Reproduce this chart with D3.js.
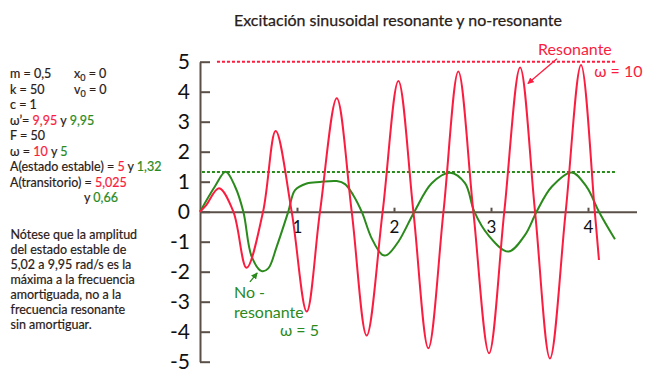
<!DOCTYPE html>
<html>
<head>
<meta charset="utf-8">
<script src="https://cdn.jsdelivr.net/npm/d3@7"></script>
<style>
  body { margin: 0; background: #fff; }
  text { font-family: Lato, "Noto Sans", sans-serif; }
</style>
</head>
<body>
<svg id="chart" width="650" height="376"></svg>
<script>
// values (t in s, x in the plot's units)
const resonantT = [0, 0.06, 0.196, 0.344, 0.48, 0.65, 0.78, 0.945, 1.10, 1.237, 1.41, 1.564, 1.718, 1.883,
  2.045, 2.2, 2.354, 2.51, 2.663, 2.818, 2.98, 3.137, 3.30, 3.454, 3.608, 3.77, 3.928, 4.07, 4.113];
const resonantX = [0, 0.2, 0.78, 0, -1.87, 0, 2.69, 0, -3.33, 0, 3.78, 0, -4.13, 0,
  4.36, 0, -4.55, 0, 4.67, 0, -4.72, 0, 4.81, 0, -4.89, 0, 4.89, 0, -1.61];

const nonResT = [0, 0.155, 0.265, 0.36, 0.447, 0.533, 0.636, 0.704, 0.79, 0.91, 0.98, 1.1, 1.237, 1.41,
  1.495, 1.58, 1.667, 1.77, 1.88, 1.93, 2.045, 2.21, 2.389, 2.577, 2.732, 2.828, 2.972, 3.178, 3.35,
  3.47, 3.626, 3.832, 3.986, 4.113, 4.278];
const nonResX = [0, 0.85, 1.33, 0.85, 0, -1.5, -1.98, -1.89, -1.17, 0, 0.72, 0.94, 0.99, 1.02,
  0.92, 0.55, 0, -0.89, -1.44, -1.44, -1.0, 0, 0.95, 1.30, 0.95, 0, -0.78, -1.33, -0.78,
  0, 0.83, 1.31, 0.83, 0, -0.92];

const steadyRes = 5;      // A estado estable, resonante
const steadyNonRes = 1.32; // A estado estable, no-resonante
const dashResSpan = [0.175, 4.28];
const dashNonResSpan = [0.02, 4.28];

const xTicks = [1, 2, 3, 4];
const yTicks = [-5, -4, -3, -2, -1, 0, 1, 2, 3, 4, 5];

const paramLines = [
  [["m = 0,5", "ink"]],
  [["k  = 50", "ink"]],
  [["c = 1", "ink"]],
  [["ω’= ", "ink"], ["9,95", "red"], [" y ", "ink"], ["9,95", "green"]],
  [["F = 50", "ink"]],
  [["ω = ", "ink"], ["10", "red"], [" y ", "ink"], ["5", "green"]],
  [["A(estado estable) = ", "ink"], ["5", "red"], [" y ", "ink"], ["1,32", "green"]],
  [["A(transitorio) = ", "ink"], ["5,025", "red"]]
];
const noteLines = [
  "Nótese que la amplitud",
  "del estado estable de",
  "5,02 a 9,95 rad/s es la",
  "máxima a la frecuencia",
  "amortiguada, no a la",
  "frecuencia resonante",
  "sin amortiguar."
];

const RED = "#fb1d40";
const GREEN = "#2b8a1c";
const AXIS = "#5b5048";
const INK = "#2a2018";
const col = c => c === "red" ? RED : c === "green" ? GREEN : INK;

const svg = d3.select("#chart");
svg.append("rect").attr("width", 650).attr("height", 376).attr("fill", "#fff");

const x = d3.scaleLinear().domain([0, 4]).range([200, 588]);
const xAxisScale = d3.scaleLinear().domain([0, 4.5]).range([x(0), x(4.5)]);
const y = d3.scaleLinear().domain([-5, 5]).range([361.7, 61.7]);

// markers for the arrows
const defs = svg.append("defs");
[["arrRed", RED], ["arrGreen", GREEN]].forEach(([id, c]) => {
  defs.append("marker")
    .attr("id", id)
    .attr("viewBox", "0 0 10 10")
    .attr("refX", 9).attr("refY", 5)
    .attr("markerWidth", 5).attr("markerHeight", 5)
    .attr("orient", "auto")
    .append("path")
    .attr("d", "M0,0L10,5L0,10z")
    .attr("fill", c);
});

// title
svg.append("text")
  .attr("x", 398).attr("y", 26)
  .attr("text-anchor", "middle")
  .style("font-size", "16px")
  .attr("fill", INK)
  .attr("stroke", INK).attr("stroke-width", 0.25)
  .text("Excitación sinusoidal resonante y no-resonante");

// parameter block
const params = svg.append("g").style("font-size", "12.5px").style("white-space", "pre").attr("fill", INK);
paramLines.forEach((parts, i) => {
  const t = params.append("text").attr("x", 10).attr("y", 78 + i * 15.5);
  parts.forEach(([s, c]) => t.append("tspan").attr("fill", col(c)).attr("stroke", col(c)).attr("stroke-width", 0.2).text(s));
});
// x0 / v0 with subscripts
[["x", 78], ["v", 93.5]].forEach(([v, yy]) => {
  const t = params.append("text").attr("x", 74).attr("y", yy).attr("stroke", INK).attr("stroke-width", 0.2);
  t.append("tspan").text(v);
  t.append("tspan").attr("dy", 3).style("font-size", "9px").text("0");
  t.append("tspan").attr("dy", -3).text(" = 0");
});
params.append("text").attr("x", 84).attr("y", 78 + 8 * 15.5)
  .call(t => {
    t.append("tspan").attr("stroke", INK).attr("stroke-width", 0.2).text("y ");
    t.append("tspan").attr("fill", GREEN).attr("stroke", GREEN).attr("stroke-width", 0.2).text("0,66");
  });

// note
const note = svg.append("g").style("font-size", "12.5px").attr("fill", INK)
  .attr("stroke", INK).attr("stroke-width", 0.2);
noteLines.forEach((s, i) => {
  note.append("text").attr("x", 10.5).attr("y", 238.5 + i * 15).text(s);
});

// axes
const yAxis = svg.append("g")
  .attr("transform", `translate(${x(0)},0)`)
  .call(d3.axisLeft(y).tickValues(yTicks).tickSizeInner(-10).tickSizeOuter(0).tickPadding(10));
const xAxis = svg.append("g")
  .attr("transform", `translate(0,${y(0)})`)
  .call(d3.axisBottom(xAxisScale).tickValues(xTicks).tickFormat(d3.format("d"))
    .tickSizeInner(-4).tickSizeOuter(0).tickPadding(9));

[yAxis, xAxis].forEach(g => {
  g.select(".domain").attr("stroke", AXIS).attr("stroke-width", 2);
  g.selectAll(".tick line").attr("stroke", AXIS).attr("stroke-width", 2);
  g.selectAll(".tick text").attr("fill", "#111").style("font-family", "Lato, sans-serif");
});
yAxis.selectAll(".tick text").style("font-size", "21px").text(d => d < 0 ? "-" + Math.abs(d) : d);
xAxis.selectAll(".tick text").style("font-size", "17px");

// steady-state amplitude lines
svg.append("line")
  .attr("x1", x(dashResSpan[0])).attr("x2", x(dashResSpan[1]))
  .attr("y1", y(steadyRes)).attr("y2", y(steadyRes))
  .attr("stroke", RED).attr("stroke-width", 2).attr("stroke-dasharray", "3,2");
svg.append("line")
  .attr("x1", x(dashNonResSpan[0])).attr("x2", x(dashNonResSpan[1]))
  .attr("y1", y(steadyNonRes)).attr("y2", y(steadyNonRes))
  .attr("stroke", GREEN).attr("stroke-width", 2).attr("stroke-dasharray", "3,2");

// curves
const line = d3.line()
  .x(d => x(d[0]))
  .y(d => y(d[1]))
  .curve(d3.curveCatmullRom.alpha(0.5));

svg.append("path")
  .datum(nonResT.map((t, i) => [t, nonResX[i]]))
  .attr("d", line)
  .attr("fill", "none").attr("stroke", GREEN).attr("stroke-width", 2);

svg.append("path")
  .datum(resonantT.map((t, i) => [t, resonantX[i]]))
  .attr("d", line)
  .attr("fill", "none").attr("stroke", RED).attr("stroke-width", 2);

// annotations
svg.append("text").attr("x", x(3.485)).attr("y", y(5.22))
  .attr("fill", RED).style("font-size", "16px").text("Resonante");
svg.append("text").attr("x", x(4.064)).attr("y", y(4.5))
  .attr("fill", RED).style("font-size", "16px").text("ω = 10");
svg.append("line")
  .attr("x1", x(3.68)).attr("y1", y(5.1))
  .attr("x2", x(3.38)).attr("y2", y(4.27))
  .attr("stroke", RED).attr("stroke-width", 1.3)
  .attr("marker-end", "url(#arrRed)");

svg.append("text").attr("x", x(0.35)).attr("y", y(-2.86))
  .attr("fill", GREEN).style("font-size", "16px").text("No -");
svg.append("text").attr("x", x(0.35)).attr("y", y(-3.53))
  .attr("fill", GREEN).style("font-size", "16px").text("resonante");
svg.append("text").attr("x", x(0.825)).attr("y", y(-4.14))
  .attr("fill", GREEN).style("font-size", "16px").text("ω = 5");
svg.append("line")
  .attr("x1", x(0.515)).attr("y1", y(-2.34))
  .attr("x2", x(0.59)).attr("y2", y(-2.04))
  .attr("stroke", GREEN).attr("stroke-width", 1.3)
  .attr("marker-end", "url(#arrGreen)");
</script>
</body>
</html>
